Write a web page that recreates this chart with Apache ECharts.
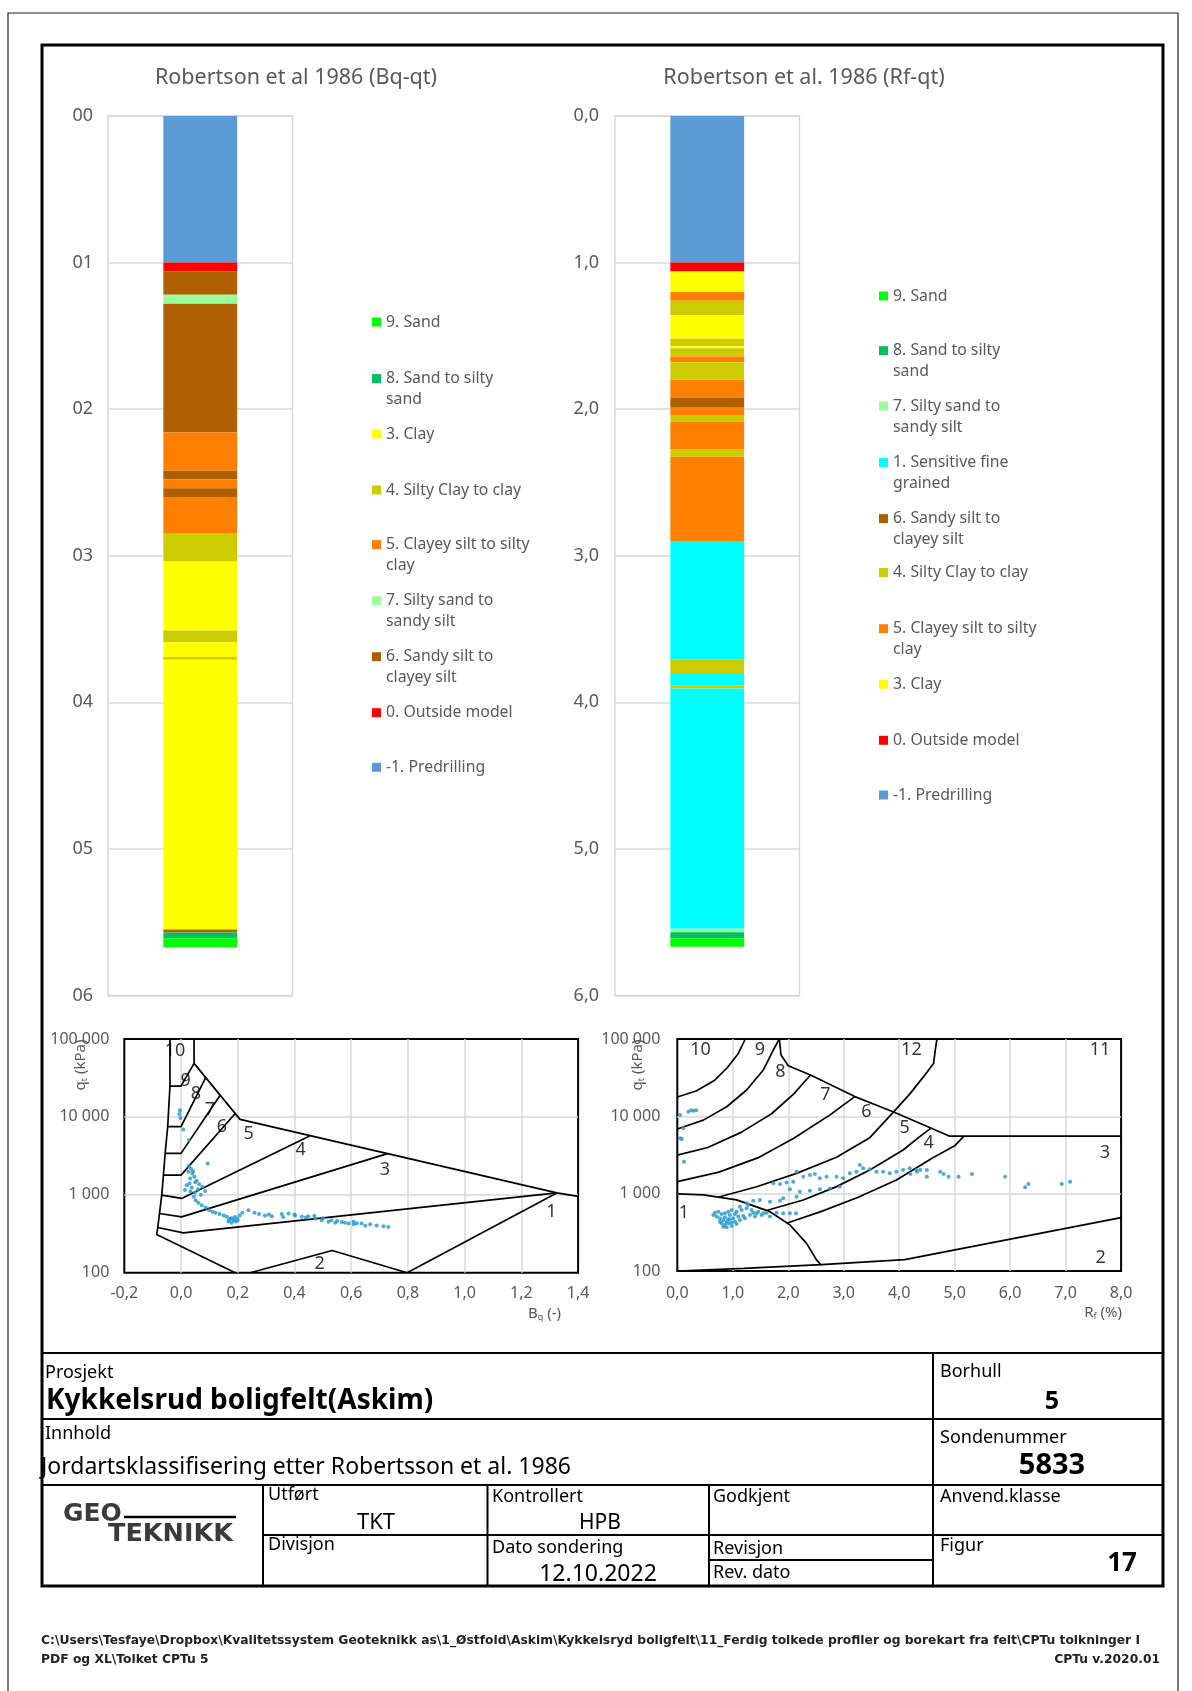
<!DOCTYPE html>
<html>
<head>
<meta charset="utf-8">
<script src="https://cdn.jsdelivr.net/npm/echarts@6/dist/echarts.min.js"></script>
<style>
html,body{margin:0;padding:0;background:#fff;}
#c{width:1192px;height:1691px;}
</style>
</head>
<body>
<div id="c"></div>
<script>
// ---------------- DATA ----------------
const depthTicks = [0, 1, 2, 3, 4, 5, 6];

const soilNames = {
  '-1': '-1. Predrilling', '0': '0. Outside model', '1': '1. Sensitive fine grained',
  '3': '3. Clay', '4': '4. Silty Clay to clay', '5': '5. Clayey silt to silty clay',
  '6': '6. Sandy silt to clayey silt', '7': '7. Silty sand to sandy silt',
  '8': '8. Sand to silty sand', '9': '9. Sand'
};
const soilColors = {
  '-1': '#5b9bd5', '0': '#ff0000', '1': '#00ffff', '3': '#ffff00', '4': '#cccc00',
  '5': '#ff8000', '6': '#b05f00', '7': '#99ff99', '8': '#00c060', '9': '#00ff00'
};
const legendLines = {
  '8. Sand to silty sand': ['8. Sand to silty', 'sand'],
  '5. Clayey silt to silty clay': ['5. Clayey silt to silty', 'clay'],
  '7. Silty sand to sandy silt': ['7. Silty sand to', 'sandy silt'],
  '6. Sandy silt to clayey silt': ['6. Sandy silt to', 'clayey silt'],
  '1. Sensitive fine grained': ['1. Sensitive fine', 'grained']
};

// Bq-qt column: soil type per layer and layer bottom depth (m)
const bqLayerType   = [-1,   0,    6,    7,    6,    5,    6,    5,    6,    5,    4,    3,    4,    3,    4,    3,    6,    8,    9];
const bqLayerBottom = [1.00, 1.06, 1.22, 1.28, 2.16, 2.42, 2.48, 2.54, 2.60, 2.85, 3.04, 3.51, 3.59, 3.69, 3.71, 5.55, 5.57, 5.61, 5.67];

// Rf-qt column
const rfLayerType   = [-1,   0,    3,    5,    4,    3,    4,    3,     4,    5,    4,    5,    6,    5,    4,     5,     4,     5,    1,    4,    1,     4,     1,     7,     8,    9];
const rfLayerBottom = [1.00, 1.06, 1.20, 1.26, 1.36, 1.52, 1.57, 1.585, 1.64, 1.68, 1.80, 1.92, 1.99, 2.04, 2.085, 2.275, 2.325, 2.90, 3.71, 3.80, 3.885, 3.905, 5.545, 5.568, 5.61, 5.668];

const bqLegendOrder = [9, 8, 3, 4, 5, 7, 6, 0, -1];
const rfLegendOrder = [9, 8, 7, 1, 6, 4, 5, 3, 0, -1];

// Bq-qt classification chart boundaries  [Bq, qt(kPa)]
const bqLeftBoundary = [[-0.039,100000],[-0.039,24900],[-0.047,7480],[-0.056,3400],[-0.062,1790],[-0.068,991],[-0.076,575],[-0.082,380],[-0.086,309],[0.191,100]];
const bqUpperBoundary = [[0.046,100000],[0.046,48600],[0.208,9290],[1.325,1057],[1.4,957]];
const bqSep9 = [[-0.039,24900],[0.0,24900],[0.046,48600]];
const bqSep8 = [[-0.047,7480],[0.0,7480],[0.087,32000]];
const bqSep7 = [[-0.056,3400],[0.0,3400],[0.138,19000]];
const bqSep6 = [[-0.062,1790],[0.0,1790],[0.191,11040]];
const bqSep5 = [[-0.068,991],[0.002,898],[0.455,5740]];
const bqSep4 = [[-0.076,575],[0.002,521],[0.728,3380]];
const bqSep3 = [[-0.082,380],[0.008,325],[1.325,1057]];
const bqZone2 = [[0.244,100],[0.533,193],[0.797,100]];
const bqZone1 = [[0.797,100],[1.325,1057]];
const bqZoneLabels = [[-0.021,70800,'10'],[0.016,29200,'9'],[0.052,20000,'8'],[0.102,12200,'7'],[0.144,7480,'6'],[0.238,6030,'5'],[0.422,3820,'4'],[0.719,2060,'3'],[0.489,130,'2'],[1.306,597,'1']];

const bqPoints = [
[-0.004,12200],[-0.006,10900],[-0.002,9660],[0.008,6900],[0.028,5030],[0.094,2530],
[0.028,2330],[0.035,2160],[0.026,1970],[0.040,1880],[0.047,1700],[0.032,1620],[0.055,1510],[0.064,1370],[0.020,1330],[0.075,1270],[0.038,1240],[0.085,1120],[0.049,1060],[0.014,1150],
[0.042,2000],[0.050,1450],[0.060,1180],[0.030,1400],[0.070,1000],[0.033,1100],
[0.045,942],[0.052,853],[0.061,789],[0.073,736],[0.087,687],[0.099,635],[0.111,605],[0.122,588],[0.136,565],[0.151,542],[0.162,521],[0.174,492],[0.186,473],[0.198,497],[0.207,542],[0.167,454],[0.179,437],[0.193,454],
[0.180,500],[0.200,470],[0.190,520],[0.170,480],
[0.216,588],[0.238,635],[0.259,588],[0.275,565],[0.296,542],[0.310,560],[0.320,532],[0.355,565],[0.360,520],[0.379,575],[0.400,560],[0.402,542],[0.426,521],[0.440,510],[0.449,532],[0.470,540],[0.473,497],[0.496,473],[0.500,500],[0.520,450],[0.530,470],[0.544,437],[0.550,460],[0.567,446],[0.578,437],[0.591,429],[0.608,450],[0.609,420],[0.620,430],[0.637,429],[0.650,400],[0.667,420],[0.690,404],[0.714,396],[0.731,387]
];

// Rf-qt classification chart boundaries [Rf(%), qt(kPa)]
const rfZone10 = [[0,17800],[0.34,21300],[0.66,28800],[0.9,42500],[1.1,65000],[1.225,100000]];
const rfZone9 = [[0,6860],[0.47,8930],[0.89,13300],[1.25,21900],[1.55,39700],[1.73,72000],[1.84,100000]];
const rfUpper = [[1.84,100000],[1.87,62000],[2.0,45000],[2.4,34200],[3.2,18000],[3.9,11400],[4.6,6900],[4.9,5560],[8,5560]];
const rfZone8 = [[0,3150],[0.55,3950],[1.15,6200],[1.7,10800],[2.1,19500],[2.4,34200]];
const rfZone7 = [[0,1430],[0.75,1900],[1.45,2900],[2.1,5200],[2.74,10300],[3.2,18000]];
const rfZone6 = [[0.75,905],[1.43,1230],[2.15,1830],[2.87,2950],[3.47,5300],[3.9,11400],[4.2,19800],[4.44,32600],[4.62,48400],[4.65,72000],[4.68,100000]];
const rfZone5 = [[1.61,605],[2.27,828],[2.87,1233],[3.47,2020],[4.07,3670],[4.37,5460],[4.567,7000]];
const rfZone4 = [[1.97,415],[2.6,590],[3.25,890],[3.95,1500],[4.6,2900],[5.0,4150],[5.167,5560]];
const rfZone1 = [[0,995],[0.47,965],[1.07,830],[1.67,585],[2.03,395],[2.33,228],[2.51,139],[2.6,118]];
const rfZone2 = [[0,100],[1.2,108],[2.6,121],[4.1,140],[8,490]];
const rfZoneLabels = [[0.42,72100,'10'],[1.49,72100,'9'],[1.86,37900,'8'],[2.67,18900,'7'],[3.41,11500,'6'],[4.10,7000,'5'],[4.53,4480,'4'],[4.22,72100,'12'],[7.62,72100,'11'],[7.71,3390,'3'],[7.63,146,'2'],[0.12,567,'1']];

const rfPoints = [
[0.05,10400],[0.20,11500],[0.25,12000],[0.29,11800],[0.34,12000],[0.108,7000],[0.05,5200],[0.08,5100],[0.12,2590],
[1.73,1360],[1.85,1335],[1.97,1390],[2.09,1430],[2.15,1920],[2.27,1660],[2.39,1740],[2.48,1800],[2.57,1580],[2.69,1660],[2.87,1660],[2.99,1580],[3.11,1830],[3.23,1920],[3.29,2350],[3.35,2130],[3.47,2070],[3.59,1920],[3.71,1920],[3.83,1830],[3.95,1920],[4.07,2020],[4.19,2130],[4.31,2020],
[2.03,1140],[2.21,1060],[2.39,1090],[2.57,1140],[2.75,1170],[2.93,1230],[2.15,914],[1.91,871],[1.67,789],[1.85,811],
[1.25,750],[1.37,811],[1.49,828],[1.91,557],[2.03,557],[2.14,557],[1.61,568],
[0.679,568],[0.739,585],[0.799,546],[0.859,557],[0.919,585],[0.979,615],[1.069,585],[1.159,615],[1.249,646],[1.339,615],[1.429,557],
[0.769,480],[0.829,456],[0.889,434],[0.949,466],[1.009,480],[1.099,505],[1.189,514],[1.309,530],[1.399,505],
[0.799,413],[0.859,394],[0.919,413],[0.979,422],[0.829,374],[0.889,367],[0.769,434],[1.039,434],[1.129,456],[1.219,480],
[1.520,530],[1.670,505],[1.279,713],[1.129,679],[0.709,505],[0.949,530],[1.039,546],[0.859,494],[0.919,466],[0.979,382],[1.069,406],[0.649,530],[1.369,568],[1.459,585],[1.550,557],[1.790,568],
[4.20,1800],[4.32,1920],[4.38,2020],[4.50,2020],[4.50,1660],[4.74,1920],[4.80,1800],[4.89,1660],[5.07,1660],[5.31,1800],[5.91,1660],[6.27,1210],[6.33,1330],[6.93,1330],[7.08,1430]
];

// ---------------- BUILD ----------------
const FONT = '"Noto Sans", Lato, sans-serif';
const GRAY = '#595959';
const LIGHT = '#d9d9d9';

function columnSeries(types, bottoms, idx) {
  let prev = 0;
  return types.map((t, i) => {
    const th = +(bottoms[i] - prev).toFixed(4);
    prev = bottoms[i];
    return {
      type: 'bar', name: soilNames[t], xAxisIndex: idx, yAxisIndex: idx,
      stack: 'col' + idx, data: [th], barWidth: '40%', silent: true,
      itemStyle: { color: soilColors[t] }
    };
  });
}

function lineSeries(arr, idx) {
  return {
    type: 'line', xAxisIndex: idx, yAxisIndex: idx, data: arr, showSymbol: false, symbol: 'none',
    silent: true, z: 3, lineStyle: { color: '#000', width: 1.7 }
  };
}

function labelSeries(arr, idx) {
  return {
    type: 'scatter', xAxisIndex: idx, yAxisIndex: idx, data: arr, symbolSize: 1, silent: true, z: 5,
    itemStyle: { color: 'rgba(0,0,0,0)' },
    label: { show: true, position: 'inside', formatter: p => p.data[2], color: '#000', fontSize: 18, fontFamily: FONT }
  };
}

function legendsFor(order, iconX, centers) {
  return order.map((t, i) => {
    const name = soilNames[t];
    const two = !!legendLines[name];
    return {
      left: iconX, top: centers[i] - (two ? 31.5 : 10.5), padding: 0, orient: 'vertical',
      data: [name], icon: 'rect', itemWidth: 9, itemHeight: 9, selectedMode: false,
      formatter: n => legendLines[n] ? '\n' + legendLines[n].join('\n') : n,
      textStyle: { fontFamily: FONT, fontSize: 15.8, color: GRAY, lineHeight: 21 }
    };
  });
}

const commaFmt = v => (Math.round(v * 10) / 10).toFixed(1).replace('.', ',');
const spaceFmt = v => String(Math.round(v)).replace(/\B(?=(\d{3})+(?!\d))/g, ' ');

const depthAxisBase = {
  type: 'value', inverse: true, min: depthTicks[0], max: depthTicks[depthTicks.length - 1], interval: 1,
  axisLine: { show: false }, axisTick: { show: false },
  splitLine: { lineStyle: { color: LIGHT, width: 1.5 } }
};

const logAxisBase = {
  type: 'log', logBase: 10, min: 100, max: 100000,
  axisLine: { show: false }, axisTick: { show: false },
  splitLine: { lineStyle: { color: LIGHT, width: 1.5 }, showMinLine: false, showMaxLine: false },
  axisLabel: { formatter: spaceFmt, color: GRAY, fontSize: 16, fontFamily: FONT }
};

const txt = (x, y, text, font, extra) => ({
  type: 'text', x: x, y: y, silent: true,
  style: Object.assign({ text: text, font: font || ('18px ' + FONT), fill: '#000', align: 'left', verticalAlign: 'middle' }, extra || {})
});
const ln = (x1, y1, x2, y2, w) => ({ type: 'line', silent: true, shape: { x1, y1, x2, y2 }, style: { stroke: '#000', lineWidth: w || 2 } });
const subRich = { a: { fontSize: 15, fontFamily: FONT, fill: GRAY }, b: { fontSize: 9, fontFamily: FONT, fill: GRAY, verticalAlign: 'bottom', padding: [6, 0, 0, 0] } };

const graphics = [
  { type: 'rect', silent: true, shape: { x: 8, y: 13, width: 1170, height: 1720 }, style: { fill: 'none', stroke: '#222', lineWidth: 1.2 } },
  { type: 'rect', silent: true, shape: { x: 42, y: 45, width: 1121, height: 1541 }, style: { fill: 'none', stroke: '#000', lineWidth: 3 } },
  // title block grid
  ln(42, 1353, 1163, 1353), ln(42, 1419, 1163, 1419), ln(42, 1485, 1163, 1485),
  ln(263, 1535, 1163, 1535), ln(709, 1560, 933, 1560),
  ln(933, 1353, 933, 1586), ln(263, 1485, 263, 1586), ln(487.5, 1485, 487.5, 1586), ln(709, 1485, 709, 1586),
  // title block texts
  txt(45, 1373, 'Prosjekt'),
  txt(46, 1401, 'Kykkelsrud boligfelt(Askim)', 'bold 28px ' + FONT),
  txt(940, 1372, 'Borhull'),
  txt(1052, 1402, '5', 'bold 25px ' + FONT, { align: 'center' }),
  txt(45, 1434, 'Innhold'),
  txt(41, 1467, 'Jordartsklassifisering etter Robertsson et al. 1986', '23px ' + FONT),
  txt(940, 1438, 'Sondenummer'),
  txt(1052, 1466, '5833', 'bold 29px ' + FONT, { align: 'center' }),
  txt(268, 1495, 'Utført'),
  txt(376, 1523, 'TKT', '22px ' + FONT, { align: 'center' }),
  txt(492, 1497, 'Kontrollert'),
  txt(600, 1523, 'HPB', '21px ' + FONT, { align: 'center' }),
  txt(713, 1497, 'Godkjent'),
  txt(940, 1497, 'Anvend.klasse'),
  txt(268, 1545, 'Divisjon'),
  txt(492, 1548, 'Dato sondering'),
  txt(598, 1574, '12.10.2022', '23px ' + FONT, { align: 'center' }),
  txt(713, 1549, 'Revisjon'),
  txt(713, 1573, 'Rev. dato'),
  txt(940, 1546, 'Figur'),
  txt(1122, 1564, '17', 'bold 26px ' + FONT, { align: 'center' }),
  // logo
  txt(63, 1514, 'GEO', 'bold 25px "DejaVu Sans"', { fill: '#3a3a3a' }),
  ln(124, 1517, 236, 1517, 2.5),
  txt(108, 1534, 'TEKNIKK', 'bold 25.5px "DejaVu Sans"', { fill: '#3a3a3a' }),
  // footer
  txt(41, 1641, 'C:\\Users\\Tesfaye\\Dropbox\\Kvalitetssystem Geoteknikk as\\1_Østfold\\Askim\\Kykkelsryd boligfelt\\11_Ferdig tolkede profiler og borekart fra felt\\CPTu tolkninger I', 'bold 12.3px "DejaVu Sans"', { fill: '#222' }),
  txt(41, 1660, 'PDF og XL\\Tolket CPTu 5', 'bold 12.3px "DejaVu Sans"', { fill: '#222' }),
  txt(1160, 1660, 'CPTu v.2020.01', 'bold 12.3px "DejaVu Sans"', { fill: '#222', align: 'right' }),
  // axis names of classification charts
  { type: 'text', x: 81, y: 1065, rotation: Math.PI / 2, silent: true,
    style: { text: '{a|q}{b|t}{a| (kPa)}', align: 'center', verticalAlign: 'middle', rich: subRich } },
  { type: 'text', x: 638, y: 1065, rotation: Math.PI / 2, silent: true,
    style: { text: '{a|q}{b|t}{a| (kPa)}', align: 'center', verticalAlign: 'middle', rich: subRich } },
  { type: 'text', x: 561, y: 1314, silent: true,
    style: { text: '{a|B}{b|q}{a| (-)}', align: 'right', verticalAlign: 'middle', rich: subRich } },
  { type: 'text', x: 1122, y: 1313, silent: true,
    style: { text: '{a|R}{b|f}{a| (%)}', align: 'right', verticalAlign: 'middle', rich: subRich } }
];

const option = {
  animation: false,
  backgroundColor: '#fff',
  title: [
    { text: 'Robertson et al 1986 (Bq-qt)', left: 296, top: 78, textAlign: 'center', textVerticalAlign: 'middle', padding: 0,
      textStyle: { fontFamily: FONT, fontSize: 21.5, fontWeight: 'normal', color: GRAY } },
    { text: 'Robertson et al. 1986 (Rf-qt)', left: 804, top: 78, textAlign: 'center', textVerticalAlign: 'middle', padding: 0,
      textStyle: { fontFamily: FONT, fontSize: 21.5, fontWeight: 'normal', color: GRAY } }
  ],
  legend: [].concat(
    legendsFor(bqLegendOrder, 372, [322, 378.6, 434, 490, 544.6, 600.7, 656.7, 712.7, 767.3]),
    legendsFor(rfLegendOrder, 879, [296, 350.7, 406, 462.5, 518.6, 572.5, 628.7, 684.3, 740.3, 795])
  ),
  grid: [
    { left: 108, top: 116, width: 184.5, height: 879.5, show: true, borderColor: LIGHT, borderWidth: 1.5, backgroundColor: '#fff' },
    { left: 615, top: 116, width: 184.5, height: 879.5, show: true, borderColor: LIGHT, borderWidth: 1.5, backgroundColor: '#fff' },
    { left: 124.3, top: 1039, width: 453.8, height: 233.7, show: true, borderColor: '#000', borderWidth: 2, backgroundColor: '#fff' },
    { left: 677.3, top: 1039, width: 443.8, height: 232, show: true, borderColor: '#000', borderWidth: 2, backgroundColor: '#fff' }
  ],
  xAxis: [
    { gridIndex: 0, type: 'category', data: [''], axisLine: { show: false }, axisTick: { show: false }, axisLabel: { show: false }, splitLine: { show: false } },
    { gridIndex: 1, type: 'category', data: [''], axisLine: { show: false }, axisTick: { show: false }, axisLabel: { show: false }, splitLine: { show: false } },
    { gridIndex: 2, type: 'value', min: -0.2, max: 1.4, interval: 0.2, axisLine: { show: false }, axisTick: { show: false },
      splitLine: { lineStyle: { color: LIGHT, width: 1.5 }, showMinLine: false, showMaxLine: false },
      axisLabel: { formatter: commaFmt, color: GRAY, fontSize: 16, fontFamily: FONT, margin: 13 } },
    { gridIndex: 3, type: 'value', min: 0, max: 8, interval: 1, axisLine: { show: false }, axisTick: { show: false },
      splitLine: { lineStyle: { color: LIGHT, width: 1.5 }, showMinLine: false, showMaxLine: false },
      axisLabel: { formatter: commaFmt, color: GRAY, fontSize: 16, fontFamily: FONT, margin: 14 } }
  ],
  yAxis: [
    Object.assign({ gridIndex: 0 }, depthAxisBase, { axisLabel: { formatter: v => '0' + v, color: GRAY, fontSize: 18, fontFamily: FONT, margin: 15 } }),
    Object.assign({ gridIndex: 1 }, depthAxisBase, { axisLabel: { formatter: commaFmt, color: GRAY, fontSize: 18, fontFamily: FONT, margin: 16 } }),
    Object.assign({ gridIndex: 2 }, logAxisBase, { axisLabel: Object.assign({}, logAxisBase.axisLabel, { margin: 15 }) }),
    Object.assign({ gridIndex: 3 }, logAxisBase, { axisLabel: Object.assign({}, logAxisBase.axisLabel, { margin: 17 }) })
  ],
  series: [].concat(
    columnSeries(bqLayerType, bqLayerBottom, 0),
    columnSeries(rfLayerType, rfLayerBottom, 1),
    [bqLeftBoundary, bqUpperBoundary, bqSep9, bqSep8, bqSep7, bqSep6, bqSep5, bqSep4, bqSep3, bqZone2, bqZone1].map(a => lineSeries(a, 2)),
    [rfZone10, rfZone9, rfUpper, rfZone8, rfZone7, rfZone6, rfZone5, rfZone4, rfZone1, rfZone2].map(a => lineSeries(a, 3)),
    [
      { type: 'scatter', xAxisIndex: 2, yAxisIndex: 2, data: bqPoints, symbolSize: 4, silent: true, z: 4, itemStyle: { color: '#2a9bd4', opacity: 0.85 } },
      { type: 'scatter', xAxisIndex: 3, yAxisIndex: 3, data: rfPoints, symbolSize: 4, silent: true, z: 4, itemStyle: { color: '#2a9bd4', opacity: 0.85 } },
      labelSeries(bqZoneLabels, 2),
      labelSeries(rfZoneLabels, 3)
    ]
  ),
  graphic: graphics
};

const chart = echarts.init(document.getElementById('c'), null, { renderer: 'canvas', width: 1192, height: 1691 });
chart.setOption(option);
</script>
</body>
</html>
